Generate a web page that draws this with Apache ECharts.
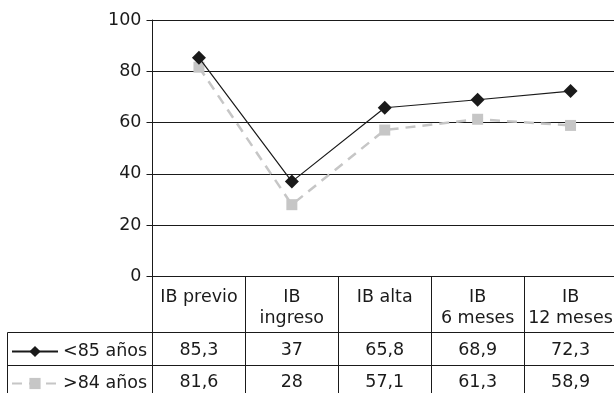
<!DOCTYPE html>
<html><head><meta charset="utf-8">
<script src="https://cdn.jsdelivr.net/npm/echarts@6/dist/echarts.min.js"></script>
<style>html,body{margin:0;padding:0;background:#fff;overflow:hidden}#c{width:622px;height:393px}</style>
</head><body><div id="c"></div>
<script>
const categories = ['IB previo', 'IB\ningreso', 'IB alta', 'IB\n6 meses', 'IB\n12 meses'];
const seriesNames = ['<85 años', '>84 años'];
const under85 = [85.3, 37, 65.8, 68.9, 72.3];
const over84 = [81.6, 28, 57.1, 61.3, 58.9];
const yMin = 0, yMax = 100, yStep = 20;

const fmt = v => String(v).replace('.', ',');
const FONT = '"DejaVu Sans", sans-serif';
const FS = 17.5;
const INK = '#1a1a1a';
const chart = echarts.init(document.getElementById('c'), null, {renderer: 'canvas'});

const gridTop = 20, axisY = 276.5, row1 = 332.5, row2 = 365.5, leftX = 152.5;

const baseX = {
  type: 'category', position: 'bottom', boundaryGap: true,
  axisLine: {show: true, lineStyle: {color: INK, width: 1}},
  axisTick: {show: true, alignWithLabel: false, interval: 0, lineStyle: {color: INK, width: 1}},
  splitLine: {show: false}
};
const legendBase = {
  orient: 'horizontal', left: 6, itemWidth: 46, itemHeight: 14, selectedMode: false,
  textStyle: {fontFamily: FONT, fontSize: FS, color: INK}
};

chart.setOption({
  animation: false,
  textStyle: {fontFamily: FONT},
  grid: {left: leftX, top: gridTop, width: 464.5, height: axisY - gridTop, containLabel: false},
  legend: [
    Object.assign({}, legendBase, {top: row1 + 5, data: [seriesNames[0]]}),
    Object.assign({}, legendBase, {top: row2 + 4, data: [seriesNames[1]]})
  ],
  xAxis: [
    Object.assign({}, baseX, {
      data: categories,
      axisTick: Object.assign({}, baseX.axisTick, {length: row1 - axisY}),
      axisLabel: {interval: 0, fontSize: FS, color: INK, margin: 10, lineHeight: 21, verticalAlign: 'top', fontFamily: FONT}
    }),
    Object.assign({}, baseX, {
      data: under85.map(fmt), offset: row1 - axisY,
      axisTick: Object.assign({}, baseX.axisTick, {length: row2 - row1}),
      axisLabel: {interval: 0, fontSize: FS, color: INK, margin: 17.5, verticalAlign: 'middle', fontFamily: FONT}
    }),
    Object.assign({}, baseX, {
      data: over84.map(fmt), offset: row2 - axisY,
      axisTick: Object.assign({}, baseX.axisTick, {length: 40}),
      axisLabel: {interval: 0, fontSize: FS, color: INK, margin: 16.5, verticalAlign: 'middle', fontFamily: FONT}
    })
  ],
  yAxis: {
    type: 'value', min: yMin, max: yMax, interval: yStep,
    axisLine: {show: true, lineStyle: {color: INK, width: 1}},
    axisTick: {show: true, length: 6, lineStyle: {color: INK}},
    axisLabel: {fontSize: FS, color: INK, margin: 11, fontFamily: FONT},
    splitLine: {show: true, lineStyle: {color: INK, width: 1}}
  },
  graphic: [
    {type: 'line', shape: {x1: 7.5, y1: row1, x2: leftX, y2: row1}, style: {stroke: INK, lineWidth: 1}},
    {type: 'line', shape: {x1: 7.5, y1: row2, x2: leftX, y2: row2}, style: {stroke: INK, lineWidth: 1}},
    {type: 'line', shape: {x1: 7.5, y1: row1, x2: 7.5, y2: 400}, style: {stroke: INK, lineWidth: 1}},
    {type: 'line', shape: {x1: leftX, y1: axisY, x2: leftX, y2: 400}, style: {stroke: INK, lineWidth: 1}}
  ],
  series: [
    {
      name: seriesNames[1], type: 'line', data: over84, xAxisIndex: 0, z: 2,
      symbol: 'rect', symbolSize: 11,
      itemStyle: {color: '#c6c6c6'},
      lineStyle: {color: '#c6c6c6', width: 2.5, type: [10, 7]}
    },
    {
      name: seriesNames[0], type: 'line', data: under85, xAxisIndex: 0, z: 3,
      symbol: 'diamond', symbolSize: 14,
      itemStyle: {color: '#1a1a1a'},
      lineStyle: {color: '#1a1a1a', width: 1.2}
    }
  ]
});
</script></body></html>
